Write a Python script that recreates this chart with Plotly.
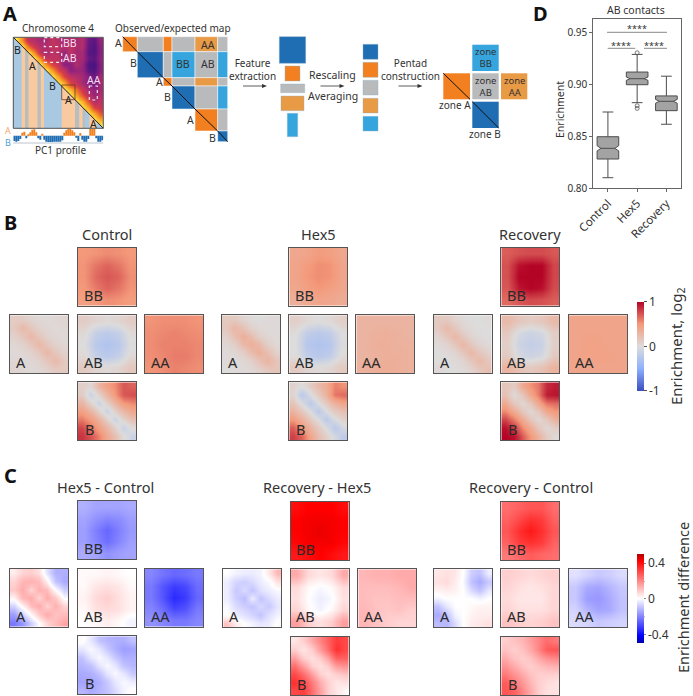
import numpy as np
import plotly.graph_objects as go

W, H = 693, 696
FONT = "Noto Sans"
INK = "#333333"
ORANGE, DBLUE, LBLUE, LORANGE, GREY = "#f28020", "#1f6db2", "#36a5de", "#e89a45", "#b9babc"

# ---------- Panel D values ----------
box_names = ["Control", "Hex5", "Recovery"]
box_q1 = [0.8282, 0.8998, 0.8748]
box_median = [0.8385, 0.9056, 0.8838]
box_q3 = [0.8497, 0.9120, 0.8890]
box_low = [0.8102, 0.8825, 0.8617]
box_high = [0.8735, 0.9290, 0.9080]
box_notch = [0.0025, 0.0016, 0.0018]
outlier_names = ["Hex5", "Hex5", "Hex5"]
outlier_values = [0.9305, 0.8795, 0.8770]

# ---------- Panel A values ----------
pc1_profile = [-.8, -.9, -.8, -.5, .45, .6, -.4, .2, .5, .9, .95, .5, -.4, -.6, .3, -.6,
               -.9, -.95, -.95, -.95, -.9, -.9, -.9, -.9, -.7, .45, .8, 1, 1, .8, .5, -.3,
               -.8, .4, -.6, -.9, -.9, -.5, 1, 1, 1, -.4, -.9, -.9, -.7]
chrom_rows = [
    [1, .85, .6, .55, .5, .5, .62, .55, .5, .55, .5, .55, .3, .25, .45],
    [1, .8, .65, .55, .55, .62, .6, .55, .6, .52, .55, .28, .22, .42],
    [1, .85, .6, .5, .6, .55, .45, .6, .5, .5, .25, .22, .4],
    [1, .85, .62, .6, .6, .45, .55, .5, .5, .3, .25, .42],
    [1, .85, .7, .62, .4, .4, .55, .45, .22, .2, .4],
    [1, .88, .72, .62, .4, .45, .45, .25, .22, .4],
    [1, .88, .7, .6, .55, .5, .38, .3, .5],
    [1, .9, .7, .62, .5, .4, .3, .5],
    [1, .92, .8, .65, .5, .42, .5],
    [1, .9, .75, .6, .45, .55],
    [1, .92, .75, .55, .6],
    [1, .9, .7, .65],
    [1, .9, .75],
    [1, .9],
    [1],
]
stripe_orange = [(21.7, 25), (28.3, 37.7), (40.7, 44), (61.7, 75), (79.3, 82.7), (89.3, 96.7)]
stripe_grey = [(25, 28.3), (37.7, 40.7), (75, 78.7), (82.7, 85)]

obs_edges_x = [122.7, 137.3, 163.3, 172, 195, 217.7, 227.7]
obs_edges_y = [36.7, 51.7, 77.7, 86, 109, 131, 141.7]
obs_cells = [
    "OGOGLG",
    " DGSGS",
    "  OGLG",
    "   DGS",
    "    OG",
    "     D",
]
feature_blocks_1 = [(279.3, 36.7, 305.7, 63.3, DBLUE), (285, 66, 300, 81, ORANGE), (280.7, 84, 304.7, 92.7, GREY),
                    (281, 96, 304, 110.7, LORANGE), (287.3, 113.3, 297.7, 136.7, LBLUE)]
feature_blocks_2 = [(363, 44.3, 378, 59.3, DBLUE), (363, 62.3, 378, 77.3, ORANGE), (363, 80.3, 378, 95, GREY),
                    (363, 98.3, 378, 113, LORANGE), (363, 116.3, 378, 131, LBLUE)]

# ---------- Panel B values (log2 enrichment) ----------
ctrl_BB = [[.50, .52, .55, .53, .50], [.52, .62, .68, .62, .52], [.52, .66, .72, .68, .54],
           [.50, .60, .68, .62, .52], [.46, .50, .54, .52, .48]]
ctrl_A = [[.12, .12, .06, .03, .03, .04, .06], [.14, .26, .16, .08, .04, .03, .04], [.08, .16, .28, .16, .08, .04, .03],
          [.04, .08, .16, .28, .16, .08, .04], [.03, .04, .08, .16, .28, .16, .08], [.04, .03, .04, .08, .16, .26, .14],
          [.06, .04, .03, .04, .08, .14, .14]]
ctrl_AB = [[.12, .06, .03, .06, .12], [.03, -.15, -.2, -.15, .02], [.0, -.22, -.27, -.22, -.01],
           [.03, -.15, -.22, -.15, .03], [.14, .06, .03, .06, .16]]
ctrl_AA = [[.52, .54, .54, .54, .52], [.54, .56, .58, .56, .54], [.54, .58, .58, .58, .56],
           [.54, .56, .60, .60, .56], [.52, .54, .58, .56, .54]]
ctrl_B = [[.10, .05, .30, .45, .55, .72, .68], [.12, -.12, .08, .30, .50, .72, .75], [.30, .08, -.12, .08, .30, .48, .55],
          [.45, .30, .08, -.12, .08, .28, .40], [.60, .48, .30, .08, -.12, .08, .22], [.78, .62, .45, .28, .08, -.12, .02],
          [.84, .74, .58, .38, .22, .02, -.12]]

hex_BB = [[.40, .42, .48, .46, .40], [.42, .48, .54, .52, .42], [.42, .50, .54, .52, .42],
          [.40, .46, .50, .46, .40], [.34, .38, .42, .40, .36]]
hex_A = [[.14, .14, .06, .02, .0, .02, .02], [.16, .28, .20, .08, .04, .02, .02], [.08, .22, .34, .24, .10, .04, .02],
         [.04, .10, .26, .34, .26, .10, .04], [.02, .04, .10, .24, .34, .22, .08], [.02, .02, .04, .08, .20, .30, .18],
         [.0, .02, .02, .04, .08, .16, .18]]
hex_AB = [[.10, .03, .0, .03, .10], [.01, -.17, -.22, -.17, .0], [.0, -.24, -.27, -.24, -.02],
          [.01, -.17, -.23, -.17, .02], [.14, .05, .02, .05, .14]]
hex_AA = [[.30, .30, .30, .30, .30], [.30, .32, .34, .32, .30], [.30, .34, .34, .32, .32],
          [.30, .32, .34, .34, .32], [.32, .34, .36, .34, .32]]
hex_B = [[.08, .0, .12, .26, .36, .58, .52], [.06, -.22, -.02, .14, .32, .62, .66], [.18, -.02, -.22, -.02, .14, .32, .42],
         [.30, .16, -.02, -.22, -.02, .14, .22], [.48, .32, .14, -.02, -.22, -.02, .10], [.70, .50, .30, .14, -.02, -.22, -.06],
         [.80, .68, .42, .22, .10, -.06, -.20]]

rec_BB = [[.70, .74, .76, .76, .72], [.74, .96, 1.0, 1.0, .78], [.74, 1.0, 1.0, 1.0, .78],
          [.72, .94, 1.0, .96, .76], [.66, .72, .76, .74, .70]]
rec_A = [[.14, .14, .06, .02, .0, .0, .02], [.14, .26, .16, .06, .02, .0, .0], [.06, .16, .28, .16, .06, .02, .0],
         [.02, .06, .16, .28, .16, .06, .02], [.0, .02, .06, .16, .28, .16, .08], [.0, .0, .02, .06, .16, .26, .16],
         [.04, .0, .0, .02, .06, .16, .22]]
rec_AB = [[.26, .16, .12, .16, .26], [.14, -.05, -.11, -.06, .12], [.10, -.1, -.16, -.12, .10],
          [.14, -.05, -.1, -.06, .14], [.30, .20, .14, .20, .32]]
rec_AA = [[.42, .42, .42, .42, .42], [.42, .43, .43, .42, .42], [.42, .44, .44, .42, .42],
          [.42, .44, .44, .44, .42], [.42, .42, .42, .42, .42]]
rec_B = [[.18, .12, .38, .52, .62, .88, .92], [.20, .02, .16, .40, .60, .92, .95], [.38, .16, .04, .16, .40, .62, .66],
         [.56, .38, .16, .04, .16, .40, .50], [.78, .60, .38, .16, .04, .16, .34], [.96, .82, .56, .38, .16, .04, .12],
         [1.0, .96, .72, .50, .32, .12, .02]]

# ---------- Panel C values (differences) ----------
d_hc_BB = [[-.13, -.15, -.15, -.15, -.14], [-.15, -.18, -.20, -.19, -.16], [-.16, -.21, -.25, -.21, -.17],
           [-.16, -.20, -.24, -.20, -.16], [-.14, -.15, -.18, -.16, -.15]]
d_hc_A = [[.03, .07, .08, .05, -.05, -.13, -.13], [.07, .12, .13, .11, .02, -.10, -.14], [.09, .14, .07, .13, .11, .0, -.08],
          [.02, .12, .14, .07, .14, .09, -.01], [-.07, .02, .11, .14, .07, .13, .07], [-.16, -.07, .01, .09, .14, .10, .11],
          [-.22, -.17, -.08, .0, .07, .11, .15]]
d_hc_AB = [[.01, .01, .02, .01, .0], [.01, .04, .05, .04, .01], [.02, .06, .08, .05, .02],
           [.01, .05, .06, .05, .02], [.0, .01, .03, .01, -.02]]
d_hc_AA = [[-.20, -.23, -.25, -.24, -.22], [-.22, -.28, -.32, -.30, -.24], [-.22, -.28, -.35, -.32, -.25],
           [-.20, -.24, -.30, -.28, -.22], [-.18, -.20, -.22, -.22, -.20]]
d_hc_B = [[.01, -.04, -.10, -.12, -.13, -.13, -.10], [-.04, -.01, -.04, -.09, -.13, -.16, -.15], [-.10, -.04, -.01, -.04, -.09, -.13, -.13],
          [-.12, -.10, -.04, -.01, -.04, -.10, -.12], [-.14, -.13, -.10, -.04, -.01, -.04, -.09], [-.15, -.15, -.13, -.09, -.04, -.01, -.03],
          [-.12, -.14, -.12, -.10, -.06, -.02, .01]]

d_rh_BB = [[.40, .42, .42, .42, .40], [.42, .43, .43, .43, .42], [.42, .43, .44, .43, .42],
           [.41, .43, .43, .43, .41], [.38, .40, .42, .40, .38]]
d_rh_A = [[.0, -.02, -.03, -.03, -.02, .04, .12], [-.03, -.07, -.08, -.06, -.03, -.01, .05], [-.03, -.09, -.06, -.10, -.05, -.03, -.01],
          [-.03, -.08, -.11, -.03, -.10, -.06, -.03], [-.01, -.06, -.08, -.10, -.06, -.09, -.04], [.0, -.03, -.05, -.07, -.10, -.05, -.02],
          [.10, .03, .0, -.02, -.04, -.03, .01]]
d_rh_AB = [[.14, .06, .04, .06, .14], [.06, .01, -.01, .01, .06], [.05, .0, -.03, -.01, .05],
           [.07, .01, -.02, .01, .07], [.16, .08, .05, .08, .16]]
d_rh_AA = [[.12, .13, .13, .14, .14], [.11, .11, .11, .12, .14], [.11, .10, .10, .11, .11],
           [.12, .10, .09, .10, .08], [.12, .10, .08, .07, .07]]
d_rh_B = [[.04, .08, .14, .20, .26, .32, .30], [.08, .04, .08, .16, .24, .34, .30], [.16, .08, .05, .08, .15, .26, .26],
          [.24, .16, .08, .05, .08, .16, .18], [.30, .24, .16, .08, .05, .08, .10], [.34, .30, .22, .14, .08, .04, .05],
          [.30, .32, .24, .16, .08, .04, .01]]

d_rc_BB = [[.24, .26, .28, .28, .24], [.26, .30, .34, .32, .26], [.28, .34, .38, .34, .28],
           [.26, .32, .34, .32, .26], [.22, .25, .27, .25, .24]]
d_rc_A = [[.04, .05, .04, .0, -.08, -.10, -.03], [.05, .06, .03, -.01, -.10, -.14, -.09], [.02, .03, .02, .0, -.06, -.10, -.04],
          [-.02, .0, .0, .0, .0, -.02, .0], [-.10, -.04, .0, .0, .01, .02, .02], [-.14, -.10, -.02, .0, .02, .03, .03],
          [-.11, -.12, -.06, .0, .03, .04, .05]]
d_rc_AB = [[.08, .07, .06, .07, .08], [.07, .05, .04, .05, .07], [.06, .04, .04, .04, .07],
           [.07, .05, .05, .05, .07], [.10, .08, .07, .08, .10]]
d_rc_AA = [[-.05, -.07, -.09, -.08, -.06], [-.09, -.14, -.15, -.12, -.09], [-.09, -.16, -.17, -.14, -.10],
           [-.07, -.12, -.15, -.14, -.10], [-.06, -.07, -.09, -.08, -.07]]
d_rc_B = [[.08, .10, .12, .16, .20, .24, .22], [.10, .08, .10, .14, .20, .27, .28], [.14, .10, .08, .10, .14, .18, .20],
          [.18, .14, .10, .08, .10, .12, .13], [.22, .18, .14, .10, .08, .08, .08], [.27, .22, .17, .12, .08, .06, .05],
          [.28, .26, .20, .14, .08, .05, .05]]

panel_b = [("Control", ctrl_BB, ctrl_A, ctrl_AB, ctrl_AA, ctrl_B),
           ("Hex5", hex_BB, hex_A, hex_AB, hex_AA, hex_B),
           ("Recovery", rec_BB, rec_A, rec_AB, rec_AA, rec_B)]
panel_c = [("Hex5 - Control", d_hc_BB, d_hc_A, d_hc_AB, d_hc_AA, d_hc_B),
           ("Recovery - Hex5", d_rh_BB, d_rh_A, d_rh_AB, d_rh_AA, d_rh_B),
           ("Recovery - Control", d_rc_BB, d_rc_A, d_rc_AB, d_rc_AA, d_rc_B)]


def px(x):
    return x / W


def py(y):
    return 1 - y / H


fig = go.Figure()
layout = {}
shapes = []
notes = []
axis_count = [0]


def add_axes(x0, y0, x1, y1, xopts, yopts):
    axis_count[0] += 1
    n = axis_count[0]
    sx = "" if n == 1 else str(n)
    layout["xaxis" + sx] = dict(domain=[px(x0), px(x1)], anchor="y" + sx, **xopts)
    layout["yaxis" + sx] = dict(domain=[py(y1), py(y0)], anchor="x" + sx, **yopts)
    return "x" + sx, "y" + sx


def txt(x, y, s, size=10.5, color=INK, angle=0, anchor="center", bold=False):
    if bold:
        s = "<b>" + s + "</b>"
    notes.append(dict(xref="paper", yref="paper", x=px(x), y=py(y), text=s, showarrow=False,
                      xanchor=anchor, yanchor="middle", textangle=angle,
                      font=dict(family=FONT, size=size, color=color)))


def rect(x0, y0, x1, y1, fill, line="rgba(0,0,0,0)", width=0, dash=None):
    shapes.append(dict(type="rect", xref="paper", yref="paper", x0=px(x0), x1=px(x1), y0=py(y0), y1=py(y1),
                       fillcolor=fill, line=dict(color=line, width=width, dash=dash), layer="above"))


def seg(x0, y0, x1, y1, color="#111111", width=1):
    shapes.append(dict(type="line", xref="paper", yref="paper", x0=px(x0), x1=px(x1), y0=py(y0), y1=py(y1),
                       line=dict(color=color, width=width), layer="above"))


def poly(points, fill):
    d = "M " + " L ".join(f"{px(a):.5f} {py(b):.5f}" for a, b in points) + " Z"
    shapes.append(dict(type="path", xref="paper", yref="paper", path=d, fillcolor=fill,
                       line=dict(width=0, color="rgba(0,0,0,0)"), layer="above"))


def arrow(x0, x1, y):
    seg(x0, y, x1 - 3, y, "#333333", .8)
    poly([(x1, y), (x1 - 5, y - 2), (x1 - 5, y + 2)], "#333333")


# ---------- Pentad heatmaps ----------
plain = dict(showticklabels=False, ticks="", showgrid=False, zeroline=False, showline=True, mirror=True,
             linecolor="#555555", linewidth=1.2)


def pentad(values, lefts, rows, coloraxis, labels=("BB", "A", "AB", "AA", "B")):
    """lefts: A, centre, AA left edges; rows: BB, middle, B top edges."""
    size = 58
    slots = [(lefts[1], rows[0]), (lefts[0], rows[1]), (lefts[1], rows[1]), (lefts[2], rows[1]), (lefts[1], rows[2])]
    for z, (lx, ty), lab in zip(values, slots, labels):
        n = len(z)
        xa, ya = add_axes(lx, ty, lx + size, ty + size,
                          dict(plain, range=[-0.5, n - 0.5]), dict(plain, range=[n - 0.5, -0.5]))
        fig.add_trace(go.Heatmap(z=z, xaxis=xa, yaxis=ya, coloraxis=coloraxis, zsmooth="best", hoverinfo="skip"))
        txt(lx + 15 if len(lab) == 2 else lx + 11, ty + 47, lab, size=14.5, color="#2a2a2a")


b_layouts = [((10, 78, 145), (247.7, 315.3, 382.3), 106.7), ((222, 289.3, 356.3), (247.7, 315.3, 382.3), 318),
             ((433.7, 501.3, 569), (247.7, 315.3, 382.3), 530)]
c_layouts = [((10, 78, 145), (501, 568.7, 636.3), 105), ((223.3, 290.7, 358.3), (502, 569.3, 637), 317),
             ((434, 501.3, 569), (502, 569.3, 637), 531)]
for (name, *vals), (lefts, rows, cx) in zip(panel_b, b_layouts):
    pentad(vals, lefts, rows, "coloraxis")
    txt(cx, 234, name, size=14.5)
for (name, *vals), (lefts, rows, cx) in zip(panel_c, c_layouts):
    pentad(vals, lefts, rows, "coloraxis2")
    txt(cx, 487, name, size=14.5)

layout["coloraxis"] = dict(
    cmin=-1, cmax=1,
    colorscale=[[0, "#3b4cc0"], [.25, "#8db0fe"], [.5, "#dddcdc"], [.75, "#f49a7b"], [1, "#b40426"]],
    colorbar=dict(x=px(636.7), xanchor="left", xpad=0, y=py(346.3), yanchor="middle", ypad=0, len=89, lenmode="pixels",
                  thickness=6.5, thicknessmode="pixels", outlinewidth=0, tickvals=[-1, 0, 1], ticktext=["-1", "0", "1"],
                  ticks="outside", ticklen=3, tickcolor="#555555", tickfont=dict(family=FONT, size=12, color=INK)))
layout["coloraxis2"] = dict(
    cmin=-.5, cmax=.5,
    colorscale=[[0, "#0000a8"], [.08, "#0000ff"], [.5, "#ffffff"], [.92, "#ff0000"], [1, "#b00000"]],
    colorbar=dict(x=px(636.7), xanchor="left", xpad=0, y=py(598.8), yanchor="middle", ypad=0, len=89, lenmode="pixels",
                  thickness=6.5, thicknessmode="pixels", outlinewidth=0, tickvals=[-.4, 0, .4],
                  ticktext=["-0.4", "0", "0.4"], ticks="outside", ticklen=2, tickcolor="#888888",
                  tickfont=dict(family=FONT, size=12, color=INK)))
seg(643.2, 581.6, 645, 581.6, "#999999", .8)
seg(643.2, 616.8, 645, 616.8, "#999999", .8)
txt(677, 347, "Enrichment, log<sub>2</sub>", size=15, angle=-90)
txt(683, 598, "Enrichment difference", size=14.5, angle=-90)

# ---------- Panel D ----------
xa, ya = add_axes(593.3, 19, 681, 188.3,
                  dict(type="category", categoryorder="array", categoryarray=box_names, range=[-.5, 2.5],
                       showline=True, mirror=True, linecolor="#666666", linewidth=1, ticks="outside", ticklen=3,
                       tickcolor="#666666", tickangle=-45, showgrid=False,
                       tickfont=dict(family=FONT, size=11.5, color=INK)),
                  dict(range=[.80, .9631], tickvals=[.80, .85, .90, .95], ticktext=["0.80", "0.85", "0.90", "0.95"],
                       showline=True, mirror=True, linecolor="#666666", linewidth=1, ticks="outside", ticklen=3,
                       tickcolor="#666666", showgrid=False, zeroline=False,
                       tickfont=dict(family=FONT, size=10, color=INK)))
fig.add_trace(go.Box(x=box_names, q1=box_q1, median=box_median, q3=box_q3, lowerfence=box_low, upperfence=box_high,
                     notched=True, notchspan=box_notch, width=.74, whiskerwidth=.5, notchwidth=.18,
                     fillcolor="#a3a3a3", line=dict(color="#4d4d4d", width=1), boxpoints=False,
                     xaxis=xa, yaxis=ya, showlegend=False, hoverinfo="skip"))
fig.add_trace(go.Scatter(x=outlier_names, y=outlier_values, mode="markers", xaxis=xa, yaxis=ya, showlegend=False,
                         hoverinfo="skip", marker=dict(symbol="circle-open", size=4, color="#555555", line=dict(width=.8))))
txt(635.7, 10, "AB contacts", size=10.5)
txt(560, 110, "Enrichment", size=10.5, angle=-90)
seg(607, 32.3, 667, 32.3, "#8a8a8a")
seg(607.7, 48.3, 635.3, 48.3, "#8a8a8a")
seg(644, 48.3, 667, 48.3, "#8a8a8a")
txt(637, 28, "****", size=9)
txt(621, 45, "****", size=9)
txt(654, 45, "****", size=9)

# ---------- Panel A: chromosome map ----------
n_chrom = len(chrom_rows)
chrom = np.zeros((n_chrom, n_chrom))
for i, row in enumerate(chrom_rows):
    for j, v in enumerate(row):
        chrom[i, i + j] = v
        chrom[i + j, i] = v
hide = dict(visible=False)
xa, ya = add_axes(13.3, 37.3, 103.3, 128.3, dict(hide, range=[-.5, n_chrom - .5]), dict(hide, range=[n_chrom - .5, -.5]))
fig.add_trace(go.Heatmap(z=chrom, xaxis=xa, yaxis=ya, zsmooth="best", showscale=False, hoverinfo="skip", zmin=.2, zmax=1,
                         colorscale=[[0, "#4a1480"], [.25, "#8c2080"], [.45, "#b5306a"], [.62, "#d83c48"],
                                     [.78, "#f07c28"], [.9, "#fbb32c"], [1, "#fde84a"]]))
top, bottom, left, right = 37.3, 128.3, 13.3, 103.3


def diag_y(x):
    return top + (x - left) * (bottom - top) / (right - left)


poly([(left, top), (right, bottom), (left, bottom)], "#a9c9e2")
for a, b in stripe_orange:
    poly([(a, diag_y(a)), (b, diag_y(b)), (b, bottom), (a, bottom)], "#f9c9a0")
for a, b in stripe_grey:
    poly([(a, diag_y(a)), (b, diag_y(b)), (b, bottom), (a, bottom)], "#bcbcb8")
seg(left, top, right, bottom, "#222222", 1)
rect(left, top, right, bottom, "rgba(0,0,0,0)", "#555555", 1)
rect(61.7, 85, 75, diag_y(75) + 0, "rgba(0,0,0,0)", "#55301e", .7)
for box in [(44.3, 37.7, 61.7, 46.7), (44.3, 52.3, 61.7, 62.3), (89.3, 86, 97.3, 100)]:
    rect(*box, "rgba(0,0,0,0)", "#f4e4ef", 1.2, "dot")
txt(69.5, 42.5, "BB", 10.5, "#f3dcef")
txt(69.5, 57.5, "AB", 10.5, "#f3dcef")
txt(93.5, 80, "AA", 10.5, "#f3dcef")
for x, y, s in [(17.5, 50, "B"), (32.5, 66, "A"), (52.5, 86, "B"), (68.3, 100.5, "A"), (93, 124, "A")]:
    txt(x, y, s, 10.5, "#222222")
txt(58, 28, "Chromosome 4", 10)
txt(60.7, 150, "PC1 profile", 10)
txt(7.5, 136, '<span style="color:#f0a870">A</span><br><span style="color:#4f9fd6">B</span>', 9)

xa, ya = add_axes(13.3, 128.3, 103.3, 143, dict(hide, range=[-.5, len(pc1_profile) - .5]), dict(hide, range=[-1.1, 1.1]))
fig.add_trace(go.Bar(x=list(range(len(pc1_profile))), y=pc1_profile, xaxis=xa, yaxis=ya, width=1, showlegend=False,
                     hoverinfo="skip", marker=dict(color=[ORANGE if v > 0 else DBLUE for v in pc1_profile], line=dict(width=0))))
seg(left, 143, right, 143, "#aab6c4", .8)

# ---------- Panel A: observed/expected schematic ----------
kinds = {"O": ORANGE, "D": DBLUE, "G": GREY, "S": LBLUE, "L": LORANGE}
for r, row in enumerate(obs_cells):
    for c, k in enumerate(row):
        if k != " ":
            rect(obs_edges_x[c], obs_edges_y[r], obs_edges_x[c + 1], obs_edges_y[r + 1], kinds[k], "#ffffff", .5)
    seg(obs_edges_x[r], obs_edges_y[r], obs_edges_x[r + 1], obs_edges_y[r + 1])
for x, y, s in [(118, 42.5, "A"), (133, 63, "B"), (159, 82.5, "A"), (167.3, 96.5, "B"), (190, 120, "A"), (213, 137.5, "B"),
                (183.3, 64.5, "BB"), (207.7, 64.5, "AB"), (207.7, 45, "AA")]:
    txt(x, y, s, 10.5, "#333333")
txt(173, 28, "Observed/expected map", 10)

# ---------- Panel A: feature extraction and pentad ----------
for block in feature_blocks_1 + feature_blocks_2:
    rect(*block[:4], block[4], "#8fb0c8", .4)
txt(252.7, 69.5, "Feature<br>extraction", 10)
arrow(243, 267, 86)
txt(332.7, 75.3, "Rescaling", 10.5)
arrow(320.5, 344.5, 86)
txt(332.7, 95.7, "Averaging", 10.5)
txt(410.3, 69.5, "Pentad<br>construction", 10)
arrow(398.5, 422.5, 86)
rect(472.3, 44.7, 498.7, 71, LBLUE)
rect(472.3, 73.3, 498.7, 99.3, GREY)
rect(501, 73.3, 527.3, 99.3, LORANGE)
rect(443.3, 73.3, 470, 99.3, ORANGE)
seg(443.3, 73.3, 470, 99.3)
rect(472.3, 101.7, 498.7, 128, DBLUE)
seg(472.3, 101.7, 498.7, 128)
for x, y, s in [(485.5, 57.5, "zone<br>BB"), (485.5, 86, "zone<br>AB"), (514, 86, "zone<br>AA")]:
    txt(x, y, s, 9.5, "#333333")
txt(455, 104.7, "zone A", 10, "#333333")
txt(485.3, 134.3, "zone B", 10, "#333333")

for x, y, s in [(10, 14, "A"), (10.5, 222, "B"), (10, 475, "C"), (540.7, 14, "D")]:
    txt(x, y, s, 20, "#111111", bold=True)

fig.update_layout(width=W, height=H, margin=dict(l=0, r=0, t=0, b=0, autoexpand=False), paper_bgcolor="white",
                  plot_bgcolor="white", shapes=shapes, annotations=notes, showlegend=False, barmode="overlay", **layout)
fig.write_html("out.html", config={"displayModeBar": False},
               post_script="document.body.style.margin='0';document.body.style.overflow='hidden';")
